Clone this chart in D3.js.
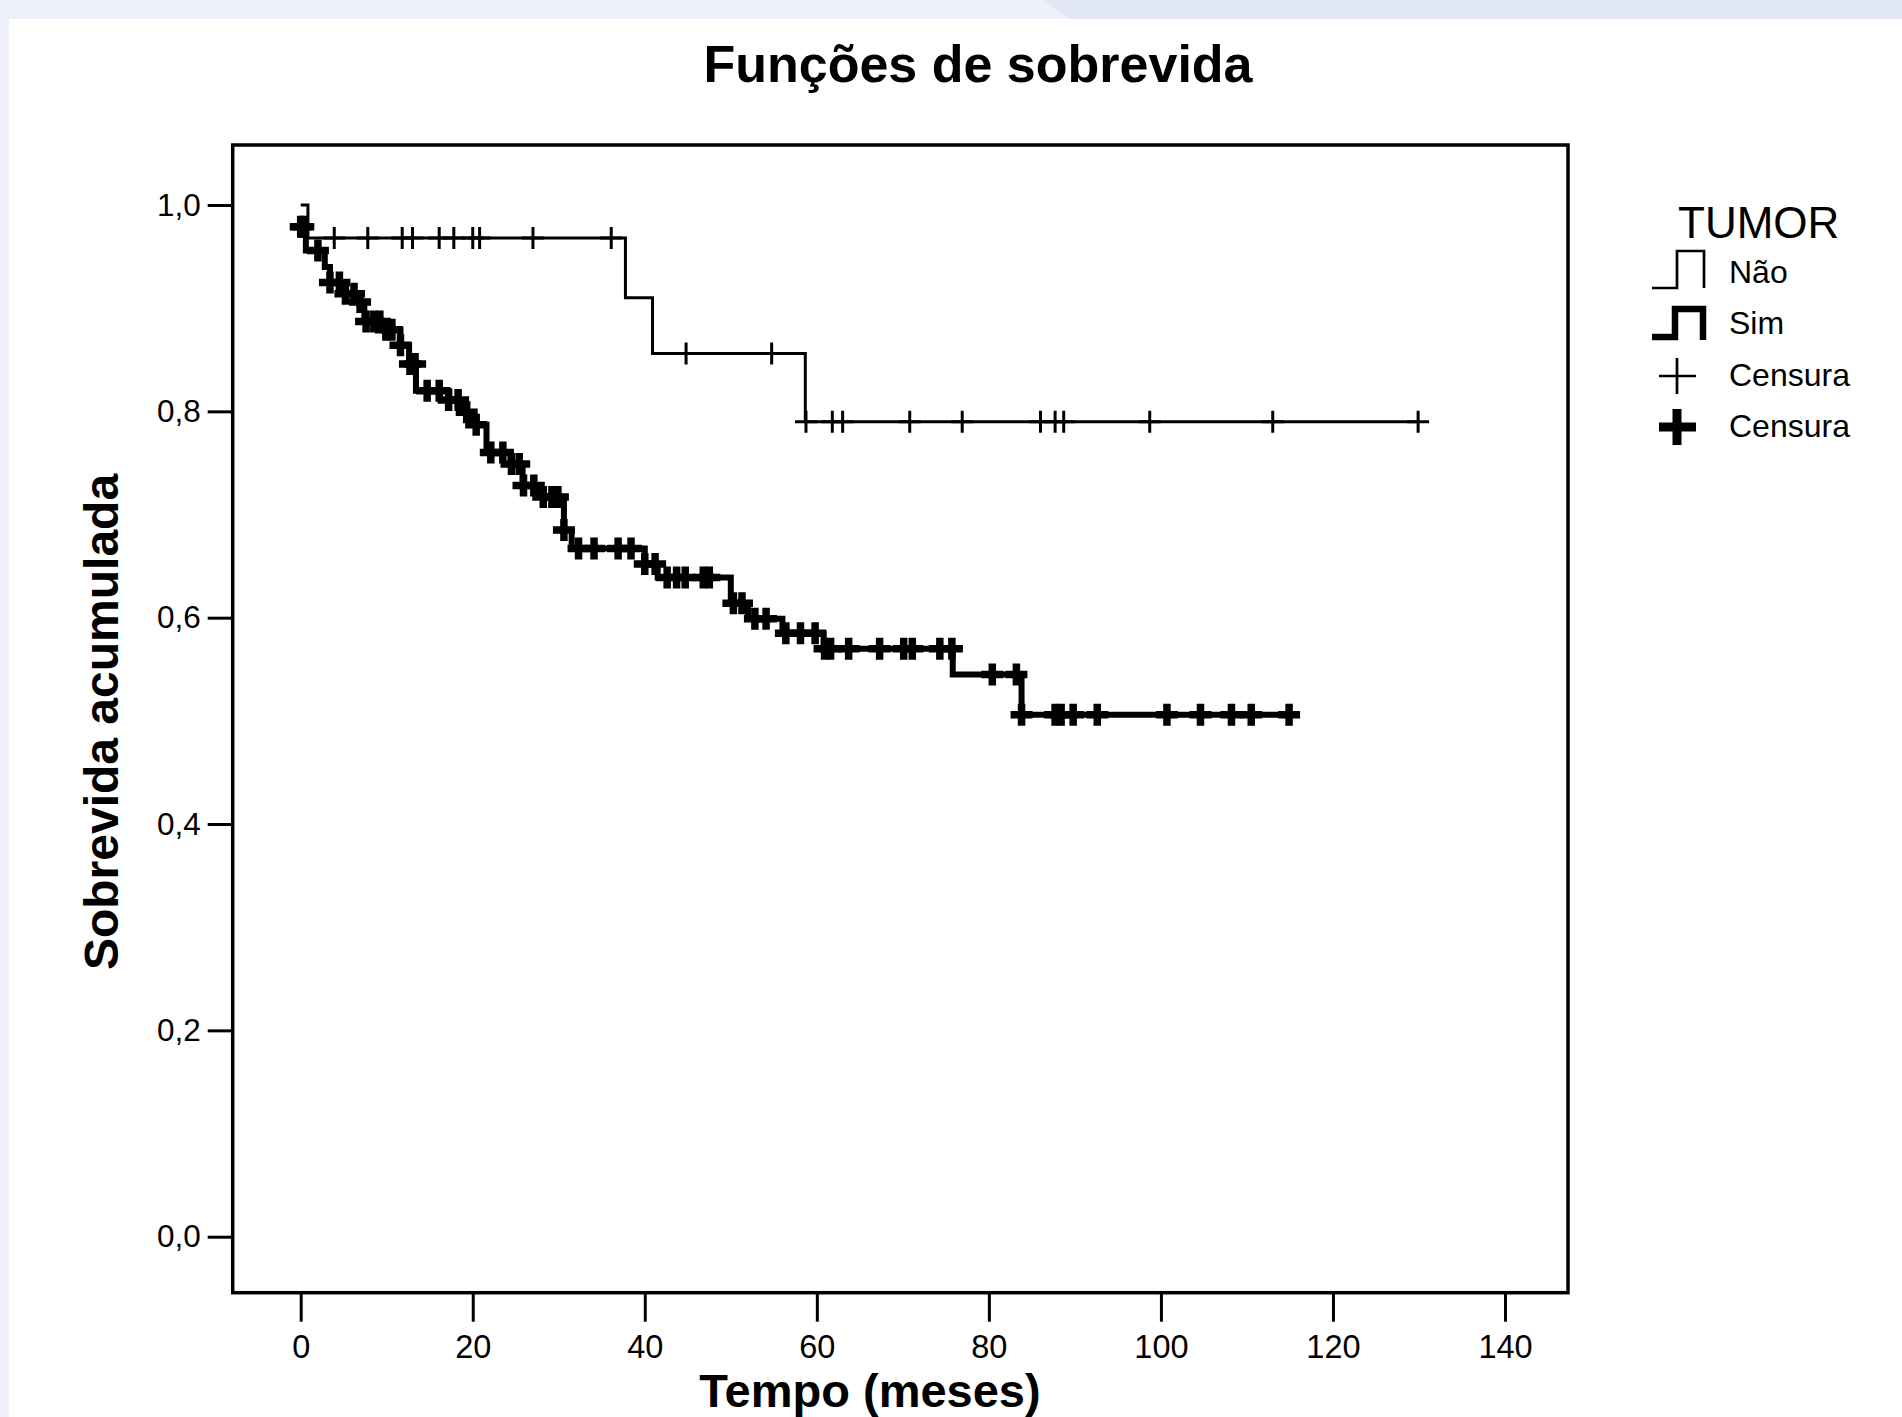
<!DOCTYPE html>
<html>
<head>
	<meta charset="utf-8">
	<script src="https://cdn.jsdelivr.net/npm/d3@7"></script>
	<style>
		body { margin: 0; background: white; }
		text { font-family: "Liberation Sans", Arial, sans-serif; fill: black; }
	</style>
</head>
<body>
	<script>

		// ---- data ----

		// group "Não": step times (months) and survival after each step
		var naoTimes    = [0, 0.84, 37.75, 40.9, 58.66];
		var naoSurv     = [1.0, 0.968, 0.910, 0.856, 0.790];
		var naoCensored = [3.9, 7.8, 11.8, 13.0, 16.1, 17.8, 20.0, 20.8, 27.0, 36.1,
		                   44.8, 54.75,
		                   58.74, 61.8, 63.0, 70.8, 76.9, 86.0, 87.7, 88.7, 98.7, 113.0, 129.9];

		// group "Sim"
		var simTimes = [0, 0.6, 2.8, 3.4, 5.0, 6.6, 7.4, 9.6, 11.6, 12.6, 13.4, 17.2, 18.6,
		                20.0, 21.6, 24.4, 25.8, 27.5, 30.6, 31.5, 40.0, 41.5, 50.0, 52.0,
		                56.0, 60.8, 75.8, 83.8];
		var simSurv  = [0.979, 0.956, 0.940, 0.925, 0.914, 0.906, 0.887, 0.879, 0.864, 0.846,
		                0.820, 0.811, 0.799, 0.787, 0.760, 0.749, 0.728, 0.717, 0.685, 0.667,
		                0.652, 0.639, 0.614, 0.599, 0.585, 0.570, 0.545, 0.506];
		var simCensored = [0, 0.3, 2.0, 3.4, 4.5, 5.2, 6.2, 6.9, 7.6, 8.5, 9.2, 9.9, 10.6, 11.6,
		                   12.7, 13.3, 14.7, 16.1, 17.2, 18.3, 19.3, 20.4, 22.1, 23.5, 24.5,
		                   25.4, 25.9, 27.1, 28.2, 29.2, 29.9, 30.6, 32.3, 34.1, 36.9, 38.4,
		                   40.0, 41.2, 42.6, 43.7, 44.7, 46.8, 47.5, 50.3, 51.3, 52.8, 54.1,
		                   56.4, 58.1, 59.8, 60.9, 61.6, 63.7, 67.3, 70.1, 71.1, 74.3, 75.7,
		                   80.4, 83.2, 83.8, 87.7, 88.4, 89.8, 92.6, 100.7, 104.6, 108.2,
		                   110.5, 114.9];

		var xTicks = [0, 20, 40, 60, 80, 100, 120, 140];
		var yTicks = [0, 0.2, 0.4, 0.6, 0.8, 1.0];

		var legendLabels = ["Não", "Sim", "Censura", "Censura"];

		// ---- layout ----

		var width = 1902, height = 1417;

		var svg = d3.select('body').append('svg')
			.attr('width', width)
			.attr('height', height);

		// page background strips
		svg.append('rect').attr('width', width).attr('height', height).attr('fill', 'white');
		svg.append('rect').attr('x', 0).attr('y', 0).attr('width', 9).attr('height', height)
			.attr('fill', '#eef1f9');
		svg.append('rect').attr('x', 0).attr('y', 0).attr('width', width).attr('height', 19)
			.attr('fill', '#eef1f9');
		svg.append('polygon').attr('points', '1043,0 1902,0 1902,19 1070,19')
			.attr('fill', '#e1e7f3');

		var frame = { left: 232.7, top: 145, right: 1568, bottom: 1292.7 };

		var x = d3.scaleLinear().domain([0, 140]).range([300.7, 1505]);
		var y = d3.scaleLinear().domain([0, 1]).range([1236.7, 205]);

		// frame
		svg.append('rect')
			.attr('x', frame.left).attr('y', frame.top)
			.attr('width', frame.right - frame.left)
			.attr('height', frame.bottom - frame.top)
			.attr('fill', 'none')
			.attr('stroke', 'black')
			.attr('stroke-width', 3.5);

		// y axis
		var yAxis = d3.axisLeft(y)
			.tickValues(yTicks)
			.tickSize(25)
			.tickFormat(function(d) { return d3.format('.1f')(d).replace('.', ','); });

		var gy = svg.append('g')
			.attr('transform', 'translate(' + frame.left + ',0)')
			.call(yAxis);
		gy.select('.domain').remove();
		gy.selectAll('.tick line').attr('stroke-width', 3);
		gy.selectAll('.tick text')
			.attr('x', -32)
			.attr('font-size', 31.5)
			.attr('font-family', '"Liberation Sans", Arial, sans-serif');

		// x axis
		var xAxis = d3.axisBottom(x)
			.tickValues(xTicks)
			.tickSize(28)
			.tickFormat(d3.format('d'));

		var gx = svg.append('g')
			.attr('transform', 'translate(0,' + (frame.bottom + 1) + ')')
			.call(xAxis);
		gx.select('.domain').remove();
		gx.selectAll('.tick line').attr('stroke-width', 3);
		gx.selectAll('.tick text')
			.attr('y', 41)
			.attr('dy', '0.71em')
			.attr('font-size', 32.5)
			.attr('font-family', '"Liberation Sans", Arial, sans-serif');

		// titles
		svg.append('text')
			.attr('x', 978).attr('y', 82)
			.attr('text-anchor', 'middle')
			.attr('font-size', 52)
			.attr('font-weight', 'bold')
			.text('Funções de sobrevida');

		svg.append('text')
			.attr('transform', 'translate(118,722) rotate(-90)')
			.attr('text-anchor', 'middle')
			.attr('font-size', 48)
			.attr('font-weight', 'bold')
			.text('Sobrevida acumulada');

		svg.append('text')
			.attr('x', 870).attr('y', 1407)
			.attr('text-anchor', 'middle')
			.attr('font-size', 47)
			.attr('font-weight', 'bold')
			.text('Tempo (meses)');

		// ---- curves ----

		function stepValue(times, surv, t) {
			var v = surv[0];
			for (var i = 0; i < times.length; i++) {
				if (times[i] <= t) v = surv[i];
			}
			return v;
		}

		var line = d3.line()
			.x(function(d) { return x(d[0]); })
			.y(function(d) { return y(d[1]); })
			.curve(d3.curveStepAfter);

		function drawGroup(times, surv, censored, lineWidth, crossWidth) {

			var pts = times.map(function(t, i) { return [t, surv[i]]; });
			var lastT = d3.max(censored.concat(times));
			pts.push([lastT, surv[surv.length - 1]]);

			svg.append('path')
				.datum(pts)
				.attr('d', line)
				.attr('fill', 'none')
				.attr('stroke', 'black')
				.attr('stroke-width', lineWidth);

			svg.append('g')
				.selectAll('path')
				.data(censored)
				.enter()
				.append('path')
				.attr('transform', function(t) {
					return 'translate(' + x(t) + ',' + y(stepValue(times, surv, t)) + ')';
				})
				.attr('d', 'M-11,0H11M0,-11V11')
				.attr('fill', 'none')
				.attr('stroke', 'black')
				.attr('stroke-width', crossWidth);
		}

		drawGroup(naoTimes, naoSurv, naoCensored, 3, 3);
		drawGroup(simTimes, simSurv, simCensored, 6, 7.5);

		// ---- legend ----

		svg.append('text')
			.attr('x', 1678).attr('y', 238)
			.attr('font-size', 44)
			.text('TUMOR');

		var legend = svg.append('g');

		legend.selectAll('text')
			.data(legendLabels)
			.enter()
			.append('text')
			.attr('x', 1729)
			.attr('y', function(d, i) { return [283, 334, 386, 437][i]; })
			.attr('font-size', 32)
			.text(function(d) { return d; });

		legend.append('path')
			.attr('d', 'M1652,288H1677V251H1704V288')
			.attr('fill', 'none').attr('stroke', 'black').attr('stroke-width', 2.7);
		legend.append('path')
			.attr('d', 'M1652,337H1675V309H1703V340')
			.attr('fill', 'none').attr('stroke', 'black').attr('stroke-width', 6.5);
		legend.append('path')
			.attr('d', 'M1659,376H1696M1677,358V394')
			.attr('fill', 'none').attr('stroke', 'black').attr('stroke-width', 2.7);
		legend.append('path')
			.attr('d', 'M1659,427H1696M1677,409V445')
			.attr('fill', 'none').attr('stroke', 'black').attr('stroke-width', 9);

	</script>
</body>
</html>
